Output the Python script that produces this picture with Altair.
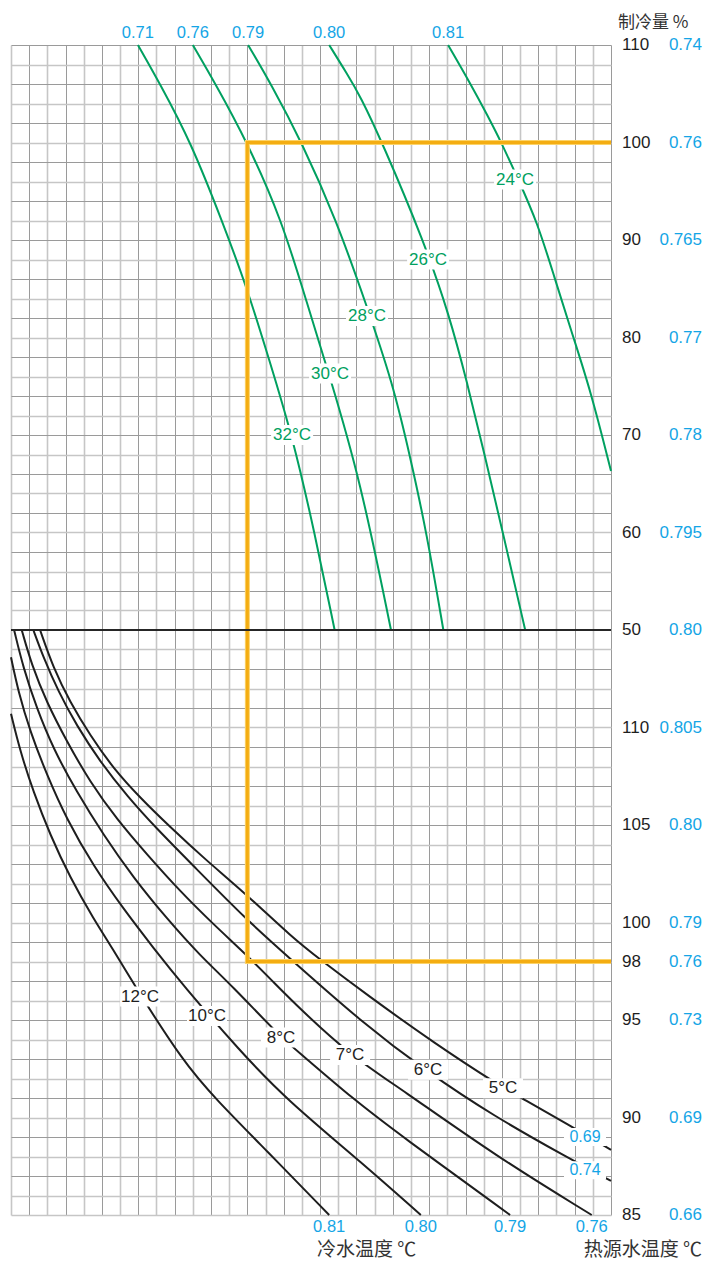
import altair as alt
import pandas as pd

# ---------------- data ----------------
# Upper panel: heat-source water temperature curves.
# c = grid column (0..33), v = cooling capacity %
hs_names = ["32°C", "30°C", "28°C", "26°C", "24°C"]
hs_top_cop = ["0.71", "0.76", "0.79", "0.80", "0.81"]
hs32_c = [6.98, 8.2, 9.9, 11.6, 13.0, 14.2, 15.46, 16.7, 17.8]
hs32_v = [110, 106, 100, 92, 85, 77.7, 70, 60, 50]
hs30_c = [10.0, 11.25, 13.0, 14.9, 16.2, 17.5, 19.2, 20.9]
hs30_v = [110, 106, 100, 92, 84, 76.2, 65.5, 50]
hs28_c = [13.04, 14.3, 16.0, 17.9, 19.5, 21.0, 21.95, 22.86, 23.78]
hs28_v = [110, 106, 100, 92, 83.6, 75.3, 67.8, 60, 50]
hs26_c = [17.5, 18.5, 19.2, 20.42, 22.72, 24.09, 25.1, 26.02, 27.1, 28.28]
hs26_v = [110, 107, 104.8, 100, 89.8, 82.4, 75.3, 68.2, 59.6, 50]
hs24_c = [24.04, 25.28, 26.2, 26.97, 27.9, 28.95, 29.87, 30.79, 31.89, 33.0]
hs24_v = [110, 106, 102.8, 100, 96.2, 91.8, 86.3, 80.8, 74.5, 66.3]
hs_label_c = [15.46, 17.55, 19.58, 22.94, 27.72]
hs_label_v = [70.0, 76.3, 82.2, 88.0, 96.2]

# Lower panel: chilled water temperature curves.
# c = grid column, w = lower-scale value (85..115)
cw_names = ["5°C", "6°C", "7°C", "8°C", "10°C", "12°C"]
cw5_c = [1.6, 2.33, 3.25, 4.35, 5.63, 7.1, 8.75, 10.6, 13.0, 15.5, 17.0, 19.56, 23.3, 26.99, 28.09, 30.65, 33.0]
cw5_w = [115, 113.05, 111.3, 109.6, 107.9, 106.4, 104.9, 103.3, 101.4, 99.2, 98.1, 96.3, 93.8, 91.56, 91.0, 89.63, 88.34]
cw6_c = [1.23, 1.78, 2.6, 3.61, 4.9, 6.37, 8.02, 10.04, 13.0, 15.17, 19.4, 22.86, 26.5, 30.64, 33.0]
cw6_w = [115, 113.6, 111.85, 110.1, 108.25, 106.5, 104.8, 102.9, 100.1, 98.3, 94.8, 92.36, 90.1, 87.93, 86.75]
cw7_c = [0.59, 1.14, 1.96, 3.06, 4.35, 5.82, 7.47, 9.3, 11.14, 13.0, 14.48, 15.9, 18.65, 21.4, 26.7, 31.94]
cw7_w = [115, 113.2, 111.3, 109.3, 107.2, 105.3, 103.5, 101.6, 99.9, 98.3, 96.9, 95.57, 93.2, 91.5, 88.0, 85]
cw8_c = [0.17, 0.68, 1.41, 2.33, 3.61, 5.08, 6.73, 8.57, 10.4, 12.11, 14.85, 15.9, 18.81, 21.4, 27.45]
cw8_w = [115, 113.05, 111.0, 108.9, 106.7, 104.5, 102.3, 100.2, 98.3, 96.8, 94.1, 93.3, 90.95, 89.1, 85]
cw10_c = [0.0, 0.4, 1.05, 1.96, 3.06, 4.53, 6.18, 7.83, 9.45, 12.6, 15.16, 19.4, 22.54]
cw10_w = [113.6, 111.85, 109.8, 107.6, 105.3, 102.9, 100.7, 98.7, 96.8, 93.4, 90.91, 87.6, 85]
cw12_c = [0.0, 0.5, 1.23, 2.15, 3.25, 4.53, 5.63, 6.64, 9.5, 11.31, 14.0, 17.5]
cw12_w = [110.7, 108.8, 106.7, 104.5, 102.3, 100.2, 98.6, 97.0, 92.8, 90.9, 88.35, 85]
cw_label_c = [27.06, 22.94, 18.65, 14.85, 10.78, 7.1]
cw_label_w = [91.5, 92.45, 93.2, 94.1, 95.2, 96.2]

# COP values at the ends of the lower curves
cw_end_cop = ["0.76", "0.79", "0.80", "0.81"]
cw_end_c = [31.94, 27.45, 22.54, 17.5]
cw_inline_cop = ["0.69", "0.74"]
cw_inline_c = [31.57, 31.57]
cw_inline_w = [89.0, 87.3]

# Operating point (orange): 100 % capacity upper, 98 lower, column 13
op_c = 13.0
op_upper_v = 100
op_lower_w = 98

# Right-hand scale labels
up_ticks = [110, 100, 90, 80, 70, 60, 50]
up_cop = ["0.74", "0.76", "0.765", "0.77", "0.78", "0.795", "0.80"]
lo_ticks = [110, 105, 100, 98, 95, 90, 85]
lo_cop = ["0.805", "0.80", "0.79", "0.76", "0.73", "0.69", "0.66"]

# ---------------- helpers ----------------
def r_up(v):
    return 30 + (v - 50) / 2.0

def r_lo(w):
    return w - 85.0

GREEN = "#00a060"
BLUE = "#14a5e6"
ORANGE = "#f4ad12"
BLACK = "#1e1e1e"
NUM_FONT = "Liberation Sans"
CJK_FONT = "Noto Sans CJK SC"

rows = []
for name, cs, vs in zip(hs_names, [hs32_c, hs30_c, hs28_c, hs26_c, hs24_c],
                        [hs32_v, hs30_v, hs28_v, hs26_v, hs24_v]):
    for i, (c, v) in enumerate(zip(cs, vs)):
        rows.append({"curve": name, "i": i, "c": c, "r": r_up(v)})
df_hs = pd.DataFrame(rows)

rows = []
for name, cs, ws in zip(cw_names, [cw5_c, cw6_c, cw7_c, cw8_c, cw10_c, cw12_c],
                        [cw5_w, cw6_w, cw7_w, cw8_w, cw10_w, cw12_w]):
    for i, (c, w) in enumerate(zip(cs, ws)):
        rows.append({"curve": name, "i": i, "c": c, "r": r_lo(w)})
df_cw = pd.DataFrame(rows)

df_hs_lab = pd.DataFrame({"label": hs_names, "c": hs_label_c, "r": [r_up(v) for v in hs_label_v]})
df_cw_lab = pd.DataFrame({"label": cw_names, "c": cw_label_c, "r": [r_lo(w) for w in cw_label_w]})
df_inline = pd.DataFrame({"label": cw_inline_cop, "c": cw_inline_c, "r": [r_lo(w) for w in cw_inline_w]})
df_top = pd.DataFrame({"label": hs_top_cop, "c": [hs32_c[0], hs30_c[0], hs28_c[0], hs26_c[0], hs24_c[0]]})
df_bot = pd.DataFrame({"label": cw_end_cop, "c": cw_end_c})
df_op = pd.DataFrame({
    "i": [0, 1, 2, 3],
    "c": [33, op_c, op_c, 33],
    "r": [r_up(op_upper_v), r_up(op_upper_v), r_lo(op_lower_w), r_lo(op_lower_w)],
})
df_right = pd.DataFrame({
    "r": [r_up(v) for v in up_ticks] + [r_lo(w) for w in lo_ticks],
    "black": [str(v) for v in up_ticks] + [str(w) for w in lo_ticks],
    "blue": up_cop + lo_cop,
})
df_right = df_right.drop_duplicates(subset="r", keep="first")

# ---------------- scales / axes ----------------
xscale = alt.Scale(domain=[0, 33], nice=False, zero=False)
yscale = alt.Scale(domain=[0, 60], nice=False, zero=False)
xaxis = alt.Axis(
    values=list(range(34)), grid=True, labels=False, ticks=False, domain=False,
    gridOpacity=1,
    gridColor={"condition": {"test": "datum.value % 2 == 1", "value": "#9a9a9a"}, "value": "#c6c6c6"},
    gridWidth={"condition": {"test": "datum.value % 2 == 1", "value": 1}, "value": 1.6},
)
yaxis = alt.Axis(
    values=list(range(61)), grid=True, labels=False, ticks=False, domain=False,
    gridOpacity=1,
    gridColor={"condition": {"test": "datum.value % 2 == 1 || datum.value == 0", "value": "#c6c6c6"}, "value": "#9a9a9a"},
    gridWidth={"condition": {"test": "datum.value % 2 == 1 || datum.value == 0", "value": 1.6}, "value": 1},
)
X = alt.X("c:Q", scale=xscale, axis=xaxis, title=None)
Y = alt.Y("r:Q", scale=yscale, axis=yaxis, title=None)

# ---------------- layers ----------------
green_lines = alt.Chart(df_hs).mark_line(color=GREEN, strokeWidth=2, interpolate="basis").encode(
    x=X, y=Y, detail="curve:N", order="i:Q")
black_lines = alt.Chart(df_cw).mark_line(color=BLACK, strokeWidth=2, interpolate="basis").encode(
    x=X, y=Y, detail="curve:N", order="i:Q")
op_halo = alt.Chart(df_op).mark_line(color="#fbd36a", strokeWidth=5, strokeJoin="miter").encode(
    x=X, y=Y, order="i:Q")
op_line = alt.Chart(df_op).mark_line(color=ORANGE, strokeWidth=3, strokeJoin="miter").encode(
    x=X, y=Y, order="i:Q")
rule50 = alt.Chart(pd.DataFrame({"r": [30]})).mark_rule(color="#262626", strokeWidth=2).encode(y=Y)

hs_boxes = alt.Chart(df_hs_lab).mark_rect(color="white", width=42, height=20).encode(x=X, y=Y)
hs_text = alt.Chart(df_hs_lab).mark_text(font=NUM_FONT, fontSize=17, color=GREEN).encode(
    x=X, y=Y, text="label:N")
cw_boxes = alt.Chart(df_cw_lab).mark_rect(color="white", width=40, height=20).encode(x=X, y=Y)
cw_text = alt.Chart(df_cw_lab).mark_text(font=NUM_FONT, fontSize=17, color=BLACK).encode(
    x=X, y=Y, text="label:N")
in_boxes = alt.Chart(df_inline).mark_rect(color="white", width=42, height=18).encode(x=X, y=Y)
in_text = alt.Chart(df_inline).mark_text(font=NUM_FONT, fontSize=16, color=BLUE).encode(
    x=X, y=Y, text="label:N")

top_text = alt.Chart(df_top).mark_text(font=NUM_FONT, fontSize=16.5, color=BLUE).encode(
    x=X, y=alt.value(-12), text="label:N")
bot_text = alt.Chart(df_bot).mark_text(font=NUM_FONT, fontSize=16.5, color=BLUE).encode(
    x=X, y=alt.value(1182), text="label:N")

right_black = alt.Chart(df_right).mark_text(font=NUM_FONT, fontSize=17, color=BLACK, align="left").encode(
    x=alt.value(611), y=Y, text="black:N")
right_blue = alt.Chart(df_right).mark_text(font=NUM_FONT, fontSize=17, color=BLUE, align="right").encode(
    x=alt.value(691), y=Y, text="blue:N")

title_top = alt.Chart(pd.DataFrame({"t": ["制冷量 %"]})).mark_text(
    font=CJK_FONT, fontSize=17, color="#333333", align="left").encode(
    x=alt.value(607), y=alt.value(-22), text="t:N")
title_cw = alt.Chart(pd.DataFrame({"t": ["冷水温度 ℃"]})).mark_text(
    font=CJK_FONT, fontSize=19, color="#333333", align="left").encode(
    x=alt.value(306), y=alt.value(1205), text="t:N")
title_hs = alt.Chart(pd.DataFrame({"t": ["热源水温度 ℃"]})).mark_text(
    font=CJK_FONT, fontSize=19, color="#333333", align="right").encode(
    x=alt.value(691), y=alt.value(1205), text="t:N")

chart = alt.layer(
    green_lines, black_lines, op_halo, op_line, rule50,
    hs_boxes, hs_text, cw_boxes, cw_text, in_boxes, in_text,
    top_text, bot_text, right_black, right_blue,
    title_top, title_cw, title_hs,
).properties(
    width=600, height=1170,
    padding={"left": 3, "top": 37, "right": 92, "bottom": 50},
    autosize=alt.AutoSizeParams(type="none"),
).configure_view(strokeWidth=0)

chart.save("out.html", embed_options={"renderer": "svg", "actions": False})
